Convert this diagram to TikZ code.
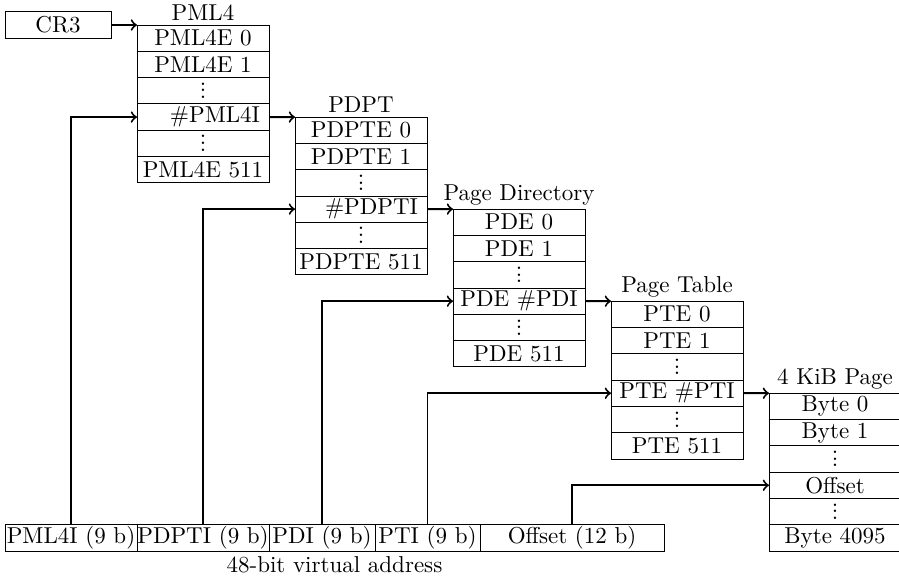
\documentclass[tikz,border=0pt]{standalone}
\begin{document}
\newcommand\vdts{\vbox{\baselineskip=2.9pt\lineskiplimit=-\maxdimen\hbox{.}\hbox{.}\hbox{.}}}
\newcommand\mktable[8]{%
 \node[cell] (#1-0) at (#2+66,#3+13.15) {#5};
 \node[cell] (#1-1) at (#2+66,#3+39.45) {#6};
 \node[cell] (#1-2) at (#2+66,#3+65.75) {\vdts};
 \node[cell] (#1-3) at (#2+66,#3+92.05) {#7};
 \node[cell] (#1-4) at (#2+66,#3+118.35) {\vdts};
 \node[cell] (#1-5) at (#2+66,#3+144.65) {#8};
 \node[ttl] (#1-t) at (#1-0.north) {#4};
}
\begin{tikzpicture}[x=0.4348pt,y=-0.4348pt,
 cell/.style={draw, line width=0.4pt, minimum width=57.39pt, minimum height=11.435pt, inner sep=0pt, outer sep=0pt},
 ttl/.style={anchor=south, inner sep=1.6pt},
 conn/.style={->, line width=0.85pt},
 field/.style={draw, line width=0.4pt, inner sep=0pt, outer sep=0pt, minimum height=11.435pt}]
\useasboundingbox (0,0) rectangle (899,578);
\node[draw, line width=0.4pt, minimum width=46.09pt, minimum height=11.435pt, inner sep=0pt, outer sep=0pt] (cr3) at (58,25) {CR3};
\mktable{pml}{137}{25}{PML4}{PML4E 0}{PML4E 1}{\makebox[49.6pt][r]{\#PML4I}}{PML4E 511}
\mktable{pdpt}{295}{117.05}{PDPT}{PDPTE 0}{PDPTE 1}{\makebox[49.6pt][r]{\#PDPTI}}{PDPTE 511}
\mktable{pd}{453}{209.1}{Page Directory}{PDE 0}{PDE 1}{PDE \#PDI}{PDE 511}
\mktable{pt}{611}{301.15}{Page Table}{PTE 0}{PTE 1}{PTE \#PTI}{PTE 511}
\mktable{pg}{769}{393.2}{4 KiB Page}{Byte 0}{Byte 1}{Offset}{Byte 4095}
\node[field, minimum width=57.39pt] (f1) at (71,537.85) {PML4I (9 b)};
\node[field, minimum width=57.39pt] (f2) at (203,537.85) {PDPTI (9 b)};
\node[field, minimum width=46.09pt] (f3) at (322,537.85) {PDI (9 b)};
\node[field, minimum width=45.65pt] (f4) at (427.5,537.85) {PTI (9 b)};
\node[field, minimum width=80pt] (f5) at (572,537.85) {Offset (12 b)};
\node[anchor=base] (lbl) at (334.5,572) {48-bit virtual address};
\draw[conn] (cr3.east) -- (pml-0.north west);
\draw[conn] (pml-3.east) -- (pdpt-0.north west);
\draw[conn] (pdpt-3.east) -- (pd-0.north west);
\draw[conn] (pd-3.east) -- (pt-0.north west);
\draw[conn] (pt-3.east) -- (pg-0.north west);
\draw[conn] (f1.north) |- (pml-3.west);
\draw[conn] (f2.north) |- (pdpt-3.west);
\draw[conn] (f3.north) |- (pd-3.west);
\draw[conn] (f4.north) |- (pt-3.west);
\draw[conn] (f5.north) |- (pg-3.west);
\end{tikzpicture}
\end{document}
